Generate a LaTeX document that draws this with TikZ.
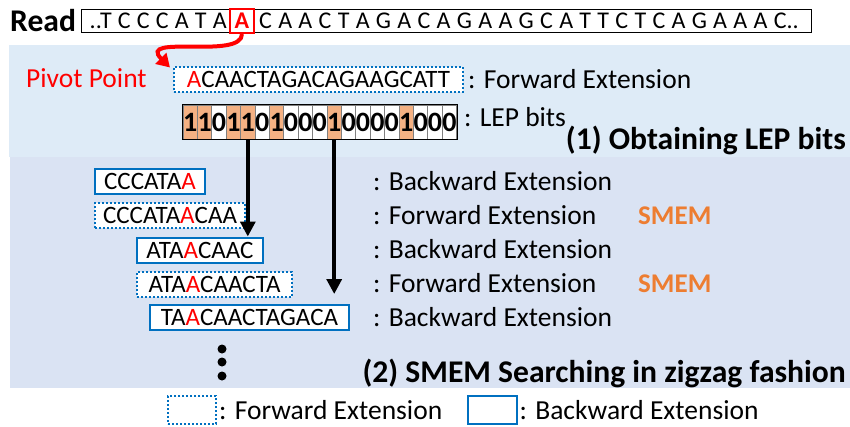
\documentclass[tikz,border=0pt]{standalone}
\usepackage{fontspec}
\setmainfont{Carlito}
\usetikzlibrary{arrows.meta,calc}
\definecolor{panelA}{HTML}{DEEBF7}
\definecolor{panelB}{HTML}{DAE3F3}
\definecolor{extblue}{HTML}{0070C0}
\definecolor{lepor}{HTML}{F4B183}
\definecolor{smemor}{HTML}{ED7D31}
\definecolor{pivred}{HTML}{FF0000}
\newcommand{\pv}[1]{\textcolor{pivred}{#1}}
\begin{document}
\begin{tikzpicture}[x=1pt,y=-1pt,
  lab/.style={font=\fontsize{27.5}{32}\selectfont, inner sep=0pt, anchor=west},
  title/.style={font=\fontsize{31.6}{36}\selectfont\bfseries, inner sep=0pt},
  seqbox/.style={font=\fontsize{25}{30}\selectfont, anchor=west, draw=extblue,
    line width=2pt, fill=white, inner xsep=5pt, inner ysep=0pt,
    minimum height=25pt, text height=16pt, text depth=0pt},
  fwdbox/.style={seqbox, dotted},
  bwdbox/.style={seqbox},
  readtxt/.style={font=\fontsize{24}{28}\selectfont, inner sep=0pt},
  bitcell/.style={draw=black!50, line width=0.8pt, minimum width=14.4pt,
    minimum height=34pt, inner sep=0pt, font=\fontsize{28}{30}\selectfont\bfseries},
  downarrow/.style={line width=3.5pt, -{Triangle[length=15pt,width=15pt]}},
  smem/.style={font=\fontsize{27}{32}\selectfont\bfseries, text=smemor, inner sep=0pt, anchor=west}
]
\useasboundingbox (0,0) rectangle (850,426);

% background panels
\fill[panelA] (9,45) rectangle (850,157);
\fill[panelB] (10,157) rectangle (850,388);

% read sequence
\node[title, anchor=west] (readlab) at (10,21) {Read};
\node[draw, line width=0.8pt, minimum width=730pt, minimum height=23pt,
  inner sep=0pt, anchor=north west] (readbox) at (81,9) {};
\node[readtxt, anchor=east] (readL) at (227,21) {\spaceskip=6.2pt ..T C C C A T A};
\node[readtxt, draw=pivred, line width=2pt, text=pivred, font=\fontsize{24}{28}\selectfont\bfseries,
  minimum width=24pt, minimum height=24pt] (pivA) at (242,21) {A};
\node[readtxt, anchor=west] (readR) at (259,21) {\spaceskip=6.3pt C A A C T A G A C A G A A G C A T T C T C A G A A A C..};

% stage 1: forward extension and LEP bits
\node[fwdbox, minimum width=289pt] (fwdtop) at (173,79) {\pv{A}CAACTAGACAGAAGCATT};
\node[lab] (fwdtoplab) at (468,79) {: Forward Extension};
\node[lab, text=pivred] (pivlab) at (26,78) {Pivot Point};
\draw[pivred, line width=4pt, -{Triangle[length=13pt,width=15pt]}]
  (pivA.south) .. controls +(0,26) and +(-34,-34) .. ([shift={(-3,2)}]fwdtop.north west);

\foreach \b/\col [count=\i from 0] in
  {1/lepor,1/lepor,0/white,1/lepor,1/lepor,0/white,1/lepor,0/white,0/white,0/white,
   1/lepor,0/white,0/white,0/white,0/white,1/lepor,0/white,0/white,0/white}
  \node[bitcell, fill=\col] (c\i) at (190.2+\i*14.4,122) {\b};
\draw[line width=0.8pt] (c0.north west) rectangle (c18.south east);
\node[lab] (leplab) at (464,117) {: LEP bits};
\node[title, anchor=east] (stage1) at (846,140) {(1) Obtaining LEP bits};

% stage 2: zigzag search
\node[bwdbox, minimum width=110pt] (r1) at (94,181.5) {CCCATA\pv{A}};
\node[fwdbox, minimum width=150pt] (r2) at (94,215.5) {CCCATA\pv{A}CAA};
\node[bwdbox, minimum width=126pt] (r3) at (136,250) {ATA\pv{A}CAAC};
\node[fwdbox, minimum width=155pt] (r4) at (136,284) {ATA\pv{A}CAACTA};
\node[bwdbox, minimum width=199pt] (r5) at (149,317.5) {TA\pv{A}CAACTAGACA};

\node[lab] (l1) at (373,181) {: Backward Extension};
\node[lab] (l2) at (373,215) {: Forward Extension};
\node[lab] (l3) at (373,249) {: Backward Extension};
\node[lab] (l4) at (373,283) {: Forward Extension};
\node[lab] (l5) at (373,317) {: Backward Extension};
\node[smem] (s1) at (638,216) {SMEM};
\node[smem] (s2) at (638,284) {SMEM};

\draw[downarrow] (c4.south) -- (c4.south |- r3.north);
\draw[downarrow, shorten >=10pt] (c10.south) -- (c10.south |- r5.north);

\foreach \yy in {349,362,376}
  \fill (222,\yy) circle[radius=4.5pt];
\node[title, anchor=east] (stage2) at (846,373) {(2) SMEM Searching in zigzag fashion};

% legend
\node[fwdbox, anchor=center, minimum width=48pt, minimum height=28pt] (legF) at (192,410) {};
\node[lab] (legFlab) at ([xshift=2pt]legF.east) {: Forward Extension};
\node[bwdbox, anchor=center, minimum width=49pt, minimum height=28pt] (legB) at (492,410) {};
\node[lab] (legBlab) at ([xshift=2pt]legB.east) {: Backward Extension};
\end{tikzpicture}
\end{document}
